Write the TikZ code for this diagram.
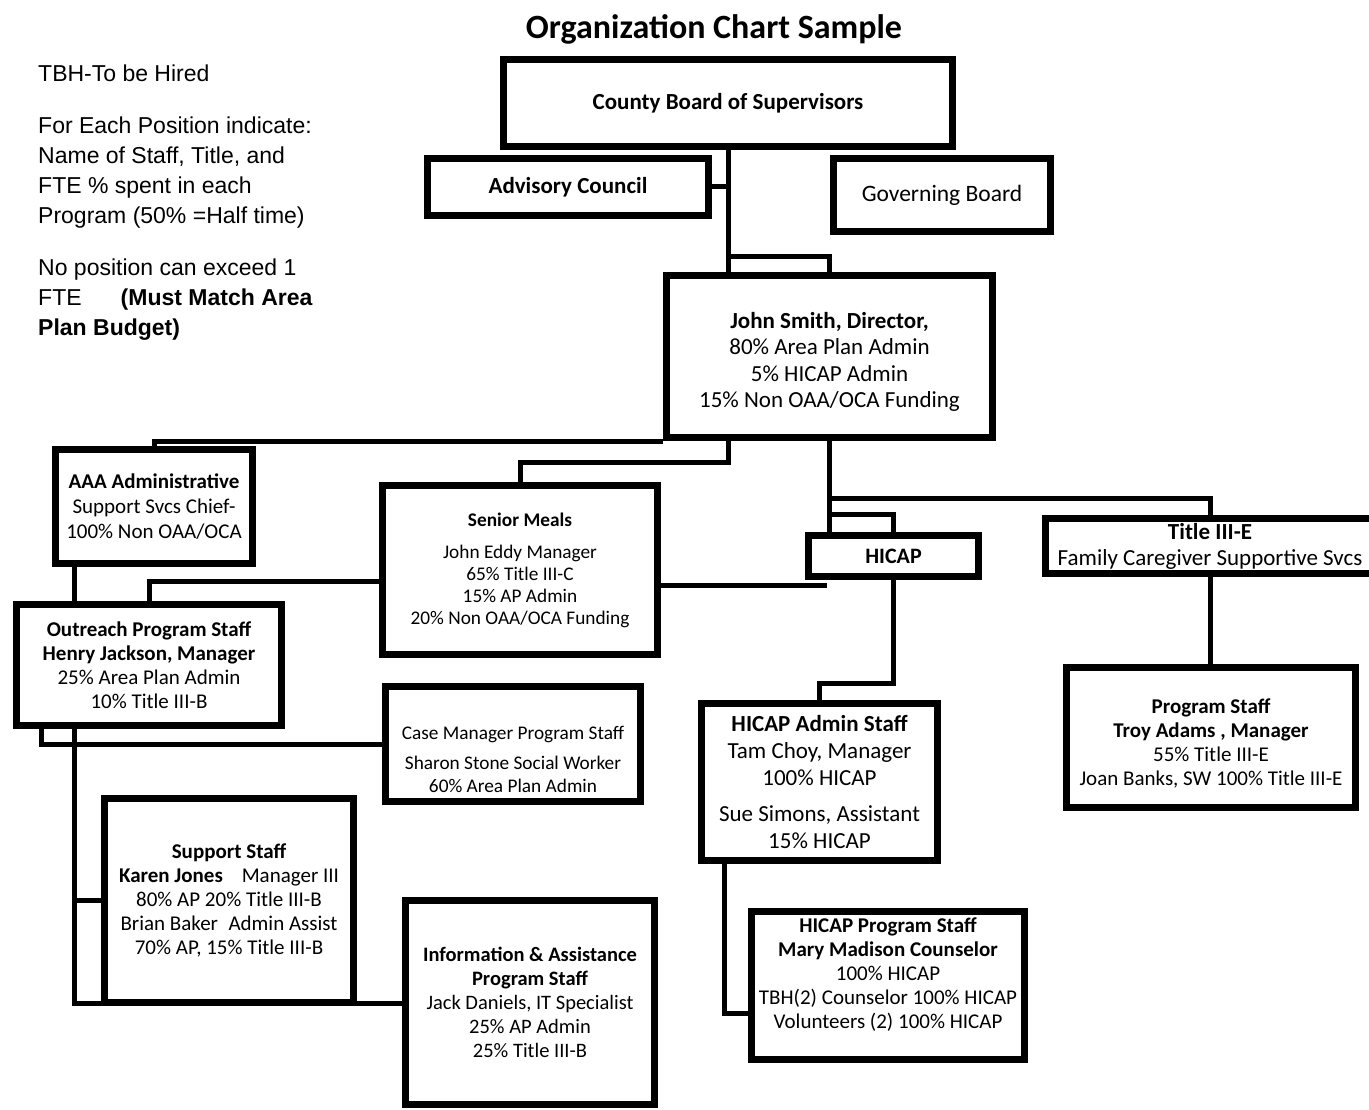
\documentclass[tikz,border=0pt]{standalone}
\usepackage{fontspec}
\setmainfont{Carlito}
\newfontfamily\notefont{Liberation Sans}
\usetikzlibrary{backgrounds}
\newcommand{\fsz}[2]{\fontsize{#1}{#2}\selectfont}

\begin{document}
\begin{tikzpicture}[x=1pt,y=-1pt,
    box/.style={draw,line width=7pt,fill=white,inner sep=0pt,align=center},
    link/.style={line width=5pt}]
\useasboundingbox (0,0) rectangle (1369,1110);

\node (notes) at (38,65) [anchor=north west,inner sep=0pt,align=left,font=\notefont\fsz{23}{30}] {TBH-To be Hired\\[22pt]
    For Each Position indicate:\\ Name of Staff, Title, and\\ FTE \% spent in each\\ Program (50\% =Half time)\\[22pt]
    No position can exceed 1\\ FTE\hspace{1.7em}\textbf{(Must Match Area}\\ \textbf{Plan Budget)}};
\node (title) at (714,29) [font=\bfseries\fsz{34}{40}] {Organization Chart Sample};

\node (cbs) at (728,103) [box,minimum width=449pt,minimum height=87pt,font=\bfseries\fsz{23}{26}] {County Board of Supervisors};
\node (adv) at (568,187) [box,minimum width=281pt,minimum height=57pt,font=\bfseries\fsz{23}{26}] {Advisory Council};
\node (gov) at (942,195) [box,minimum width=217pt,minimum height=73pt,font=\fsz{23.5}{26}] {Governing Board};
\node (dir) at (829.5,356.5) [box,minimum width=326pt,minimum height=162pt,font=\fsz{23}{26.3}] {\rule{0pt}{27pt}\textbf{John Smith, Director,}\\80\% Area Plan Admin\\5\% HICAP Admin\\15\% Non OAA/OCA Funding};

\node (aaa) at (154,506.5) [box,minimum width=197pt,minimum height=114pt,font=\fsz{21}{25}] {\textbf{AAA Administrative}\\Support Svcs Chief-\\100\% Non OAA/OCA};
\node (meals) at (520,570) [box,minimum width=275pt,minimum height=169pt,font=\fsz{19.3}{22}] {\textbf{Senior Meals}\\[10pt]John Eddy Manager\\65\% Title III-C\\15\% AP Admin\\20\% Non OAA/OCA Funding};
\node (hicap) at (893.5,556) [box,minimum width=170pt,minimum height=41pt,font=\bfseries\fsz{22}{26}] {HICAP};
\node (t3e) at (1210,546) [box,minimum width=329pt,minimum height=55pt,font=\fsz{23}{26}] {\textbf{Title III-E}\\Family Caregiver Supportive Svcs};

\node (outreach) at (149,665) [box,minimum width=265pt,minimum height=121pt,font=\fsz{21}{24}] {\textbf{Outreach Program Staff}\\\textbf{Henry Jackson, Manager}\\25\% Area Plan Admin\\10\% Title III-B};
\node (case) at (513,744) [box,minimum width=255pt,minimum height=115pt,font=\fsz{19.3}{23}] {\rule{0pt}{44pt}Case Manager Program Staff\\[7pt]Sharon Stone Social Worker\\60\% Area Plan Admin};
\node (support) at (229,900.5) [box,minimum width=249pt,minimum height=204pt,font=\fsz{21}{24}] {\textbf{Support Staff}\\\textbf{Karen Jones}\hspace{0.9em}Manager III\\80\% AP 20\% Title III-B\\Brian Baker\hspace{0.5em}Admin Assist\\70\% AP, 15\% Title III-B};
\node (info) at (530,1002.5) [box,minimum width=249pt,minimum height=204pt,font=\fsz{20.5}{24}] {\textbf{Information \& Assistance}\\\textbf{Program Staff}\\Jack Daniels, IT Specialist\\25\% AP Admin\\25\% Title III-B};

\node (hadmin) at (819.5,782) [box,minimum width=236pt,minimum height=157pt,font=\fsz{23}{27}] {\textbf{HICAP Admin Staff}\\Tam Choy, Manager\\100\% HICAP\\[9pt]Sue Simons, Assistant\\15\% HICAP};
\node (hprog) at (888,985.5) [box,minimum width=273pt,minimum height=148pt,font=\fsz{21}{24}] {\textbf{HICAP Program Staff}\\\textbf{Mary Madison Counselor}\\100\% HICAP\\TBH(2) Counselor 100\% HICAP\\Volunteers (2) 100\% HICAP\rule[-25pt]{0pt}{0pt}};
\node (pstaff) at (1211,737.5) [box,minimum width=289pt,minimum height=140pt,font=\fsz{21}{24}] {\rule{0pt}{27pt}\textbf{Program Staff}\\\textbf{Troy Adams , Manager}\\55\% Title III-E\\Joan Banks, SW 100\% Title III-E};

% elbows
\coordinate (j1) at (728,257);
\coordinate (j2) at (728,462);
\coordinate (j3) at (829,498);
\coordinate (j4) at (829,514);
\coordinate (j5) at (893.5,683);
\coordinate (j6) at (724,1013);
\coordinate (j7) at (74,1003);
\coordinate (j8) at (150,581);
\coordinate (j9) at (41,743);

\begin{scope}[on background layer]
\draw[link] (cbs.south) -- (cbs.south |- dir.north);
\draw[link] (adv.east) -- (adv.east -| cbs.south);
\draw[link] (j1) -| (dir.north);
\draw[link] (dir.south west) -| (aaa.north);
\draw[link] (j2 |- dir.south) -- (j2) -| (meals.north);
\draw[link] (dir.south) -- (dir.south |- hicap.north);
\draw[link] (j3) -| (t3e.north);
\draw[link] (j4) -| (hicap.north);
\draw[link] ([yshift=-5pt]meals.east |- hicap.south) -- ([xshift=22pt,yshift=-5pt]hicap.south west);
\draw[link] (hicap.south) -- (j5) -| (hadmin.north);
\draw[link] (j6 |- hadmin.south) -- (j6) -- (j6 -| hprog.west);
\draw[link] (t3e.south) -- (t3e.south |- pstaff.north);
\draw[link] (j7 |- aaa.south) -- (j7) -- (j7 -| support.west);
\draw[link] (j7 |- support.west) -- (support.west);
\draw[link] (meals.west |- j8) -| (outreach.north);
\draw[link] (j9 |- outreach.south) |- (case.west);
\draw[link] (support.east |- j7) -- (info.west |- j7);
\end{scope}

\end{tikzpicture}
\end{document}
